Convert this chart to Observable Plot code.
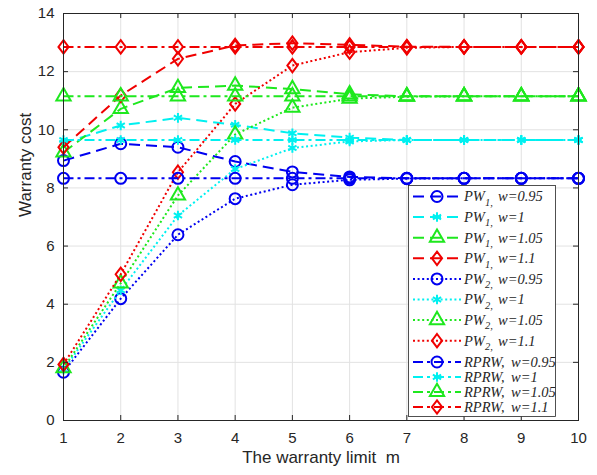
<!DOCTYPE html>
<html>
<head>
<meta charset="utf-8">
<script src="https://cdn.jsdelivr.net/npm/d3@7"></script>
<script src="https://cdn.jsdelivr.net/npm/@observablehq/plot@0.6"></script>
<style>
  html, body { margin: 0; padding: 0; background: white; }
</style>
</head>
<body>
<div id="chart"></div>
<script>
// ---- data ----
const m = [1, 2, 3, 4, 5, 6, 7, 8, 9, 10];
const xTicks = [1, 2, 3, 4, 5, 6, 7, 8, 9, 10];
const yTicks = [0, 2, 4, 6, 8, 10, 12, 14];

const pw1_095 = [8.94, 9.52, 9.40, 8.91, 8.55, 8.38, 8.33, 8.33, 8.33, 8.33];
const pw1_100 = [9.55, 10.15, 10.41, 10.17, 9.88, 9.73, 9.65, 9.65, 9.65, 9.65];
const pw1_105 = [9.22, 10.72, 11.44, 11.52, 11.40, 11.22, 11.15, 11.15, 11.15, 11.15];
const pw1_110 = [9.40, 11.18, 12.44, 12.90, 12.98, 12.92, 12.86, 12.85, 12.85, 12.85];

const pw2_095 = [1.66, 4.19, 6.39, 7.63, 8.11, 8.28, 8.32, 8.33, 8.33, 8.33];
const pw2_100 = [1.75, 4.48, 7.05, 8.65, 9.37, 9.60, 9.65, 9.65, 9.65, 9.65];
const pw2_105 = [1.80, 4.72, 7.74, 9.84, 10.76, 11.07, 11.14, 11.15, 11.15, 11.15];
const pw2_110 = [1.93, 5.03, 8.54, 10.89, 12.21, 12.67, 12.82, 12.85, 12.85, 12.85];

const rprw_095 = [8.33, 8.33, 8.33, 8.33, 8.33, 8.33, 8.33, 8.33, 8.33, 8.33];
const rprw_100 = [9.65, 9.65, 9.65, 9.65, 9.65, 9.65, 9.65, 9.65, 9.65, 9.65];
const rprw_105 = [11.15, 11.15, 11.15, 11.15, 11.15, 11.15, 11.15, 11.15, 11.15, 11.15];
const rprw_110 = [12.85, 12.85, 12.85, 12.85, 12.85, 12.85, 12.85, 12.85, 12.85, 12.85];

const wLabels = ["0.95", "1", "1.05", "1.1"];
const policies = ["PW1", "PW2", "RPRW"];

// ---- styles ----
const colors = ["#0000f0", "#00f0f0", "#1ee81e", "#f00000"];
const dashes = { PW1: "11,6", PW2: "2,2.6", RPRW: "10,4,3,4" };

const diamondTall = {
  draw(ctx, size) {
    const r = Math.sqrt(size / Math.PI);
    ctx.moveTo(0, -r * 1.22);
    ctx.lineTo(r * 0.92, 0);
    ctx.lineTo(0, r * 1.22);
    ctx.lineTo(-r * 0.92, 0);
    ctx.closePath();
  }
};
const symbols = ["circle", "asterisk", "triangle", diamondTall];
const radii = [5.5, 4.5, 5.3, 5.5];

const valueSets = {
  PW1: [pw1_095, pw1_100, pw1_105, pw1_110],
  PW2: [pw2_095, pw2_100, pw2_105, pw2_110],
  RPRW: [rprw_095, rprw_100, rprw_105, rprw_110]
};

const series = [];
policies.forEach(p => {
  wLabels.forEach((w, i) => {
    series.push({
      policy: p, w, i,
      rows: m.map((x, k) => ({ x, y: valueSets[p][i][k] }))
    });
  });
});

const W = 597, H = 475;
const mL = 63, mR = 19, mT = 13, mB = 55;
const frameH = H - mT - mB, frameW = W - mL - mR;
const axisColor = "#262626";

const marks = [
  Plot.gridX(xTicks, { stroke: "#e2e2e2", strokeOpacity: 1, strokeWidth: 1 }),
  Plot.gridY(yTicks, { stroke: "#e2e2e2", strokeOpacity: 1, strokeWidth: 1 }),
];

series.forEach(s => {
  marks.push(Plot.line(s.rows, {
    x: "x", y: "y", stroke: colors[s.i], strokeWidth: 2,
    strokeDasharray: dashes[s.policy], strokeLinecap: "butt"
  }));
  marks.push(Plot.dot(s.rows, {
    x: "x", y: "y", stroke: colors[s.i], strokeWidth: 2, fill: "none",
    symbol: symbols[s.i], r: radii[s.i]
  }));
});

marks.push(
  Plot.frame({ stroke: axisColor, strokeWidth: 1 }),
  // inward ticks (bottom, top, left, right)
  Plot.tickX(xTicks, { x: d => d, stroke: axisColor, insetTop: frameH - 5 }),
  Plot.tickX(xTicks, { x: d => d, stroke: axisColor, insetBottom: frameH - 5 }),
  Plot.tickY(yTicks, { y: d => d, stroke: axisColor, insetRight: frameW - 5 }),
  Plot.tickY(yTicks, { y: d => d, stroke: axisColor, insetLeft: frameW - 5 }),
  Plot.axisX(xTicks, { tickSize: 0, tickPadding: 12, fontSize: 15, fill: axisColor, label: null }),
  Plot.axisY(yTicks, { tickSize: 0, tickPadding: 9, fontSize: 15, fill: axisColor, label: null }),
  Plot.text(["The warranty limit\u00a0 m"], { frameAnchor: "bottom", dy: 42, fontSize: 17, fill: axisColor }),
  Plot.text(["Warranty cost"], { frameAnchor: "left", rotate: -90, dx: -38, fontSize: 17, fill: axisColor })
);

const chart = Plot.plot({
  width: W, height: H,
  marginLeft: mL, marginRight: mR, marginTop: mT, marginBottom: mB,
  x: { domain: [1, 10] },
  y: { domain: [0, 14] },
  style: { fontFamily: "'Liberation Sans', Arial, sans-serif", background: "white", color: axisColor },
  marks
});

// ---- legend ----
const svg = d3.select(chart);
const L = svg.append("g").attr("text-anchor", "start");
L.append("rect")
  .attr("x", 408.5).attr("y", 185.5).attr("width", 147).attr("height", 231)
  .attr("fill", "white").attr("stroke", axisColor).attr("stroke-width", 0.8);

const rowY = [196.5, 217.1, 237.7, 258.3, 278.9, 299.5, 320.1, 340.7, 362, 377, 392, 407];
function symObj(i) {
  const s = symbols[i];
  if (typeof s !== "string") return s;
  return { circle: d3.symbolCircle, asterisk: d3.symbolAsterisk, triangle: d3.symbolTriangle }[s];
}
series.forEach((s, k) => {
  const y = rowY[k];
  const c = colors[s.i];
  L.append("line")
    .attr("x1", 413).attr("x2", 461).attr("y1", y).attr("y2", y)
    .attr("stroke", c).attr("stroke-width", 2)
    .attr("stroke-dasharray", dashes[s.policy]);
  L.append("path")
    .attr("d", d3.symbol(symObj(s.i), radii[s.i] * radii[s.i] * Math.PI)())
    .attr("transform", `translate(437,${y})`)
    .attr("fill", "none").attr("stroke", c).attr("stroke-width", 2);
  const t = L.append("text")
    .attr("x", 464).attr("y", y + 4.8)
    .attr("text-anchor", "start")
    .attr("font-family", "'Liberation Serif', 'Times New Roman', serif")
    .attr("font-style", "italic").attr("font-size", 14.5).attr("fill", axisColor);
  if (s.policy === "RPRW") {
    t.append("tspan").text("RPRW,");
    t.append("tspan").attr("x", 511).text("w=" + s.w);
  } else {
    t.append("tspan").text("PW");
    t.append("tspan").attr("font-size", 10.5).attr("dy", 4.5).text(s.policy.slice(2) + ",");
    t.append("tspan").attr("x", 498).attr("dy", -4.5).text("w=" + s.w);
  }
});

document.getElementById("chart").appendChild(chart);
</script>
</body>
</html>
